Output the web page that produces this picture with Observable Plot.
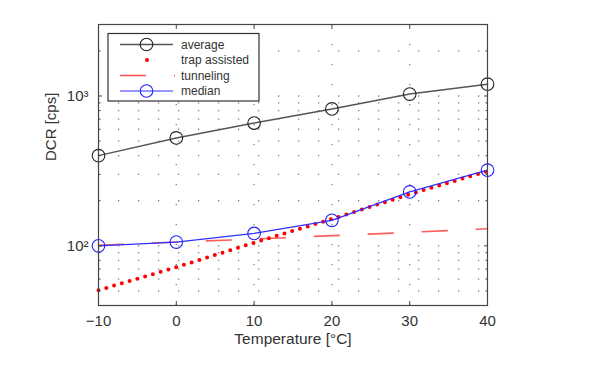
<!DOCTYPE html>
<html><head><meta charset="utf-8">
<script src="https://cdn.jsdelivr.net/npm/d3@7"></script>
<script src="https://cdn.jsdelivr.net/npm/@observablehq/plot@0.6"></script>
<style>body{margin:0;background:#fff}</style>
</head><body><div id="chart"></div>
<script>
const temps = [-10, 0, 10, 20, 30, 40];
const average = [400, 525, 660, 820, 1030, 1200];
const median = [100, 106, 121, 148, 229, 320];
const trapAssisted = [50.6, 72, 105, 151, 221, 315];
const tunneling = [101, 106, 111, 117, 123, 130];
const xTicks = [-10, 0, 10, 20, 30, 40];
const gridX = [0, 10, 20, 30];
const majorY = [100, 1000];
const minorY = [50, 60, 70, 80, 90, 200, 300, 400, 500, 600, 700, 800, 900, 2000];
const seriesNames = ["average", "trap assisted", "tunneling", "median"];

const data = temps.map((t, i) => ({t, average: average[i], median: median[i], trap: trapAssisted[i], tunnel: tunneling[i]}));
const sup = {"2": "²", "3": "³"};
const fmtY = d => "10" + sup[String(Math.round(Math.log10(d)))];
const font = "'Liberation Sans', Arial, Helvetica, sans-serif";
const gridStyle = {stroke: "#808080", strokeWidth: 1.3, strokeDasharray: "1.3,18.7"};

const chart = Plot.plot({
  width: 610, height: 378,
  marginLeft: 98, marginRight: 123, marginTop: 24, marginBottom: 73,
  style: {fontFamily: font, fontSize: "15px", color: "#333", background: "#fff"},
  x: {domain: [-10, 40]},
  y: {type: "log", domain: [40, 3000]},
  marks: [
    Plot.ruleY(minorY.concat(majorY), gridStyle),
    Plot.ruleX(gridX, gridStyle),
    // tunneling (dashed)
    Plot.line(data, {x: "t", y: "tunnel", stroke: "#ff4d4d", strokeWidth: 1.6, strokeDasharray: "25,29", strokeOpacity: 0.9}),
    // trap assisted (dotted)
    Plot.line(data, {x: "t", y: "trap", stroke: "#ff0000", strokeWidth: 4, strokeDasharray: "0,8.1", strokeLinecap: "round"}),
    // average
    Plot.line(data, {x: "t", y: "average", stroke: "#555", strokeWidth: 1.5}),
    Plot.dot(data, {x: "t", y: "average", r: 6.3, stroke: "#222", strokeWidth: 1.1, fill: "none"}),
    // median
    Plot.line(data, {x: "t", y: "median", stroke: "#3030ff", strokeWidth: 1.2}),
    Plot.dot(data, {x: "t", y: "median", r: 6.3, stroke: "#2020ff", strokeWidth: 1.1, fill: "none"}),
    Plot.frame({stroke: "#444", strokeWidth: 1.2}),
    // inward ticks
    Plot.axisX({ticks: xTicks, anchor: "bottom", tickSize: -4, stroke: "#444", tickFormat: () => "", label: null}),
    Plot.axisX({ticks: xTicks, anchor: "top", tickSize: -4, stroke: "#444", tickFormat: () => "", label: null}),
    Plot.axisY({ticks: majorY, anchor: "left", tickSize: -4, stroke: "#444", tickFormat: () => "", label: null}),
    Plot.axisY({ticks: majorY, anchor: "right", tickSize: -4, stroke: "#444", tickFormat: () => "", label: null}),
    Plot.axisY({ticks: minorY, anchor: "left", tickSize: -2.5, stroke: "#444", tickFormat: () => "", label: null}),
    Plot.axisY({ticks: minorY, anchor: "right", tickSize: -2.5, stroke: "#444", tickFormat: () => "", label: null}),
    // tick labels
    Plot.axisX({ticks: xTicks, anchor: "bottom", tickSize: 0, tickPadding: 10, fontSize: 15, fill: "#333", label: null}),
    Plot.axisY({ticks: majorY, anchor: "left", tickSize: 0, tickPadding: 10, fontSize: 15, fill: "#333", tickFormat: fmtY, label: null}),
    // axis titles
    Plot.text(["Temperature [°C]"], {frameAnchor: "bottom", dy: 38, text: d => d, fontSize: 15.5, fill: "#333"}),
    Plot.text(["DCR [cps]"], {frameAnchor: "left", dx: -47, dy: -4, rotate: -90, text: d => d, fontSize: 15, fill: "#333"})
  ]
});
document.getElementById("chart").appendChild(chart);

// legend
const svg = d3.select(chart);
const lg = svg.append("g").attr("font-family", font).attr("font-size", 12).attr("fill", "#333").attr("text-anchor", "start");
lg.append("rect").attr("x", 108).attr("y", 33.5).attr("width", 151).attr("height", 67.5)
  .attr("fill", "#fff").attr("stroke", "#333").attr("stroke-width", 1.2);
const rowsY = [44.5, 60, 75.5, 91];
// average
lg.append("line").attr("x1", 120).attr("x2", 173).attr("y1", rowsY[0]).attr("y2", rowsY[0]).attr("stroke", "#555").attr("stroke-width", 1.5);
lg.append("circle").attr("cx", 146.5).attr("cy", rowsY[0]).attr("r", 6.3).attr("fill", "none").attr("stroke", "#222").attr("stroke-width", 1.1);
// trap assisted
lg.append("circle").attr("cx", 147).attr("cy", rowsY[1]).attr("r", 2).attr("fill", "#ff0000");
// tunneling
lg.append("line").attr("x1", 120).attr("x2", 175).attr("y1", rowsY[2]).attr("y2", rowsY[2]).attr("stroke", "#ff4d4d").attr("stroke-width", 1.6).attr("stroke-dasharray", "26,28");
// median
lg.append("line").attr("x1", 120).attr("x2", 173).attr("y1", rowsY[3]).attr("y2", rowsY[3]).attr("stroke", "#3030ff").attr("stroke-width", 1.2);
lg.append("circle").attr("cx", 146.5).attr("cy", rowsY[3]).attr("r", 6.3).attr("fill", "none").attr("stroke", "#2020ff").attr("stroke-width", 1.1);
seriesNames.forEach((n, i) => {
  lg.append("text").attr("x", 181).attr("y", rowsY[i]).attr("dy", "0.35em").text(n);
});
</script>
</body></html>
